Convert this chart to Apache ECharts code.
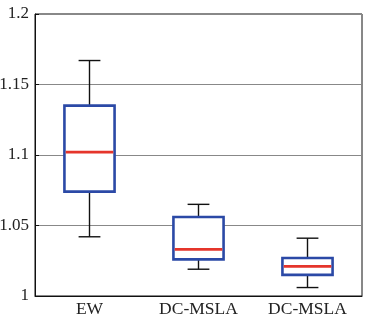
<!DOCTYPE html>
<html>
<head>
<meta charset="utf-8">
<script src="https://cdn.jsdelivr.net/npm/echarts@6/dist/echarts.min.js"></script>
<style>
  html, body { margin: 0; padding: 0; background: #fff; }
  #chart { width: 365px; height: 317px; }
</style>
</head>
<body>
<div id="chart"></div>
<script>
// 箱线图数据
var categories = ["EW", "DC-MSLA", "DC-MSLA"];
var whiskerLow = [1.042, 1.019, 1.006];
var q1 = [1.074, 1.026, 1.015];
var median = [1.102, 1.033, 1.021];
var q3 = [1.135, 1.056, 1.027];
var whiskerHigh = [1.167, 1.065, 1.041];
var yTicks = [1, 1.05, 1.1, 1.15, 1.2];

var font = "'Liberation Serif', 'DejaVu Serif', serif";

var data = categories.map(function (c, i) {
  return [i, whiskerLow[i], q1[i], median[i], q3[i], whiskerHigh[i]];
});

function renderBox(params, api) {
  var i = api.value(0);
  var band = api.size([1, 0])[0];
  var bw = band * 0.46;
  var cw = band * 0.2;
  var pLo = api.coord([i, api.value(1)]);
  var pQ1 = api.coord([i, api.value(2)]);
  var pMed = api.coord([i, api.value(3)]);
  var pQ3 = api.coord([i, api.value(4)]);
  var pHi = api.coord([i, api.value(5)]);
  var x = pLo[0];
  var black = { stroke: "#111", lineWidth: 1.4 };
  return {
    type: "group",
    children: [
      { type: "line", shape: { x1: x, y1: pLo[1], x2: x, y2: pQ1[1] }, style: black },
      { type: "line", shape: { x1: x, y1: pQ3[1], x2: x, y2: pHi[1] }, style: black },
      { type: "line", shape: { x1: x - cw / 2, y1: pLo[1], x2: x + cw / 2, y2: pLo[1] }, style: black },
      { type: "line", shape: { x1: x - cw / 2, y1: pHi[1], x2: x + cw / 2, y2: pHi[1] }, style: black },
      {
        type: "rect",
        shape: { x: x - bw / 2, y: pQ3[1], width: bw, height: pQ1[1] - pQ3[1] },
        style: { fill: "#fff", stroke: "#2b49a6", lineWidth: 2.6 }
      },
      {
        type: "line",
        shape: { x1: x - bw / 2 + 1.3, y1: pMed[1], x2: x + bw / 2 - 1.3, y2: pMed[1] },
        style: { stroke: "#e5352b", lineWidth: 2.8 }
      }
    ]
  };
}

var chart = echarts.init(document.getElementById("chart"));
chart.setOption({
  animation: false,
  grid: {
    left: 35, right: 3, top: 14, bottom: 21,
    outerBoundsMode: "none",
    containLabel: false,
    show: true, borderColor: "#111", borderWidth: 1
  },
  xAxis: [
    {
      type: "category",
      data: categories,
      axisLine: { lineStyle: { color: "#111" } },
      axisTick: { inside: true, alignWithLabel: true, length: 4, lineStyle: { color: "#111" } },
      axisLabel: { color: "#222", fontFamily: font, fontSize: 17.5, margin: 4 },
      splitLine: { show: false }
    },
    {
      type: "category",
      position: "top",
      data: categories,
      axisLine: { show: false },
      axisTick: { inside: true, alignWithLabel: true, length: 4, lineStyle: { color: "#111" } },
      axisLabel: { show: false }
    }
  ],
  yAxis: {
    type: "value",
    min: 1,
    max: 1.2,
    interval: 0.05,
    axisLine: { show: true, lineStyle: { color: "#111" } },
    axisTick: { show: true, inside: true, length: 4, lineStyle: { color: "#111" } },
    axisLabel: {
      color: "#222", fontFamily: font, fontSize: 17, margin: 6,
      formatter: function (v) {
        var t = yTicks.find(function (k) { return Math.abs(k - v) < 1e-9; });
        return t !== undefined ? String(t) : "";
      }
    },
    splitLine: { show: true, lineStyle: { color: "#888", width: 1 } }
  },
  series: [{
    type: "custom",
    renderItem: renderBox,
    encode: { x: 0, y: [1, 2, 3, 4, 5] },
    data: data,
    z: 5
  }]
});
</script>
</body>
</html>
